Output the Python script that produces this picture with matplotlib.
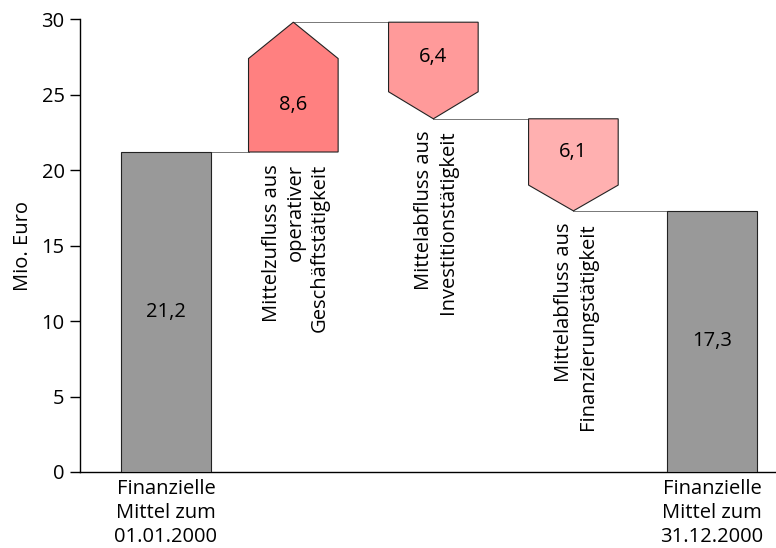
import matplotlib
matplotlib.use("Agg")
import matplotlib.pyplot as plt
from matplotlib.patches import Polygon, Rectangle
from matplotlib.transforms import blended_transform_factory

plt.rcParams['font.family'] = ['Open Sans', 'DejaVu Sans']

# Cash flow bridge (Mio. Euro)
categories = [
    "Finanzielle\nMittel zum\n01.01.2000",
    "Mittelzufluss aus\noperativer\nGeschäftstätigkeit",
    "Mittelabfluss aus\nInvestitionstätigkeit",
    "Mittelabfluss aus\nFinanzierungstätigkeit",
    "Finanzielle\nMittel zum\n31.12.2000",
]
start_value = 21.2
changes = [8.6, -6.4, -6.1]
end_value = 17.3
value_labels = ["21,2", "8,6", "6,4", "6,1", "17,3"]
y_ticks = [0, 5, 10, 15, 20, 25, 30]

# layout
positions = [0.0, 0.91, 1.91, 2.91, 3.9]
width = 0.64
head_frac = 0.28
change_colors = ["#ff8080", "#ff9a9a", "#ffb0b0"]
total_color = "#999999"
edge = "#222222"
fs = 14.5
lsp = 1.25

fig = plt.figure(figsize=(7.76, 5.48), dpi=100)
ax = fig.add_axes([0.103, 0.1387, 0.897, 0.8263])
ax.set_xlim(-0.614, 4.357)
ax.set_ylim(0, 30)

trans = blended_transform_factory(ax.transData, ax.transAxes)

# starting total
ax.add_patch(Rectangle((positions[0] - width / 2, 0), width, start_value,
                       facecolor=total_color, edgecolor=edge, linewidth=0.8, zorder=3))
ax.text(positions[0], start_value / 2, value_labels[0], ha="center", va="center", fontsize=fs, zorder=4)
ax.text(positions[0], -0.016, categories[0], transform=trans, ha="center", va="top",
        fontsize=fs, linespacing=lsp, multialignment="center")

level = start_value
prev_x = positions[0] + width / 2
for i, (chg, col) in enumerate(zip(changes, change_colors)):
    x = positions[i + 1]
    left, right = x - width / 2, x + width / 2
    new_level = level + chg
    head = abs(chg) * head_frac
    if chg > 0:
        shoulder = new_level - head
        label_top = level
    else:
        shoulder = new_level + head
        label_top = new_level
    pts = [(left, level), (right, level), (right, shoulder), (x, new_level), (left, shoulder)]
    body_mid = (level + shoulder) / 2
    # connector from previous bar
    ax.plot([prev_x, left], [level, level], color="#777777", linewidth=0.7, zorder=2)
    ax.add_patch(Polygon(pts, closed=True, facecolor=col, edgecolor=edge, linewidth=0.8, zorder=3))
    ax.text(x, body_mid, value_labels[i + 1], ha="center", va="center", fontsize=fs, zorder=4)
    ax.text(x + 0.02, label_top - 0.8, categories[i + 1], rotation=90, ha="center", va="top",
            fontsize=fs, linespacing=lsp, multialignment="right")
    level = new_level
    prev_x = x

# closing total
x_end = positions[4]
ax.plot([prev_x, x_end - width / 2], [level, level], color="#777777", linewidth=0.7, zorder=2)
ax.add_patch(Rectangle((x_end - width / 2, 0), width, end_value,
                       facecolor=total_color, edgecolor=edge, linewidth=0.8, zorder=3))
ax.text(x_end, end_value / 2, value_labels[4], ha="center", va="center", fontsize=fs, zorder=4)
ax.text(x_end, -0.016, categories[4], transform=trans, ha="center", va="top",
        fontsize=fs, linespacing=lsp, multialignment="center", clip_on=False)

ax.spines["top"].set_visible(False)
ax.spines["right"].set_visible(False)
ax.spines["left"].set_linewidth(1.0)
ax.spines["bottom"].set_linewidth(1.0)
ax.set_xticks([])
ax.set_yticks(y_ticks)
ax.tick_params(axis="y", direction="out", length=7, width=1.0, labelsize=fs, pad=4)
ax.set_ylabel("Mio. Euro", fontsize=fs, labelpad=6)

fig.savefig("out.png", dpi=100)
